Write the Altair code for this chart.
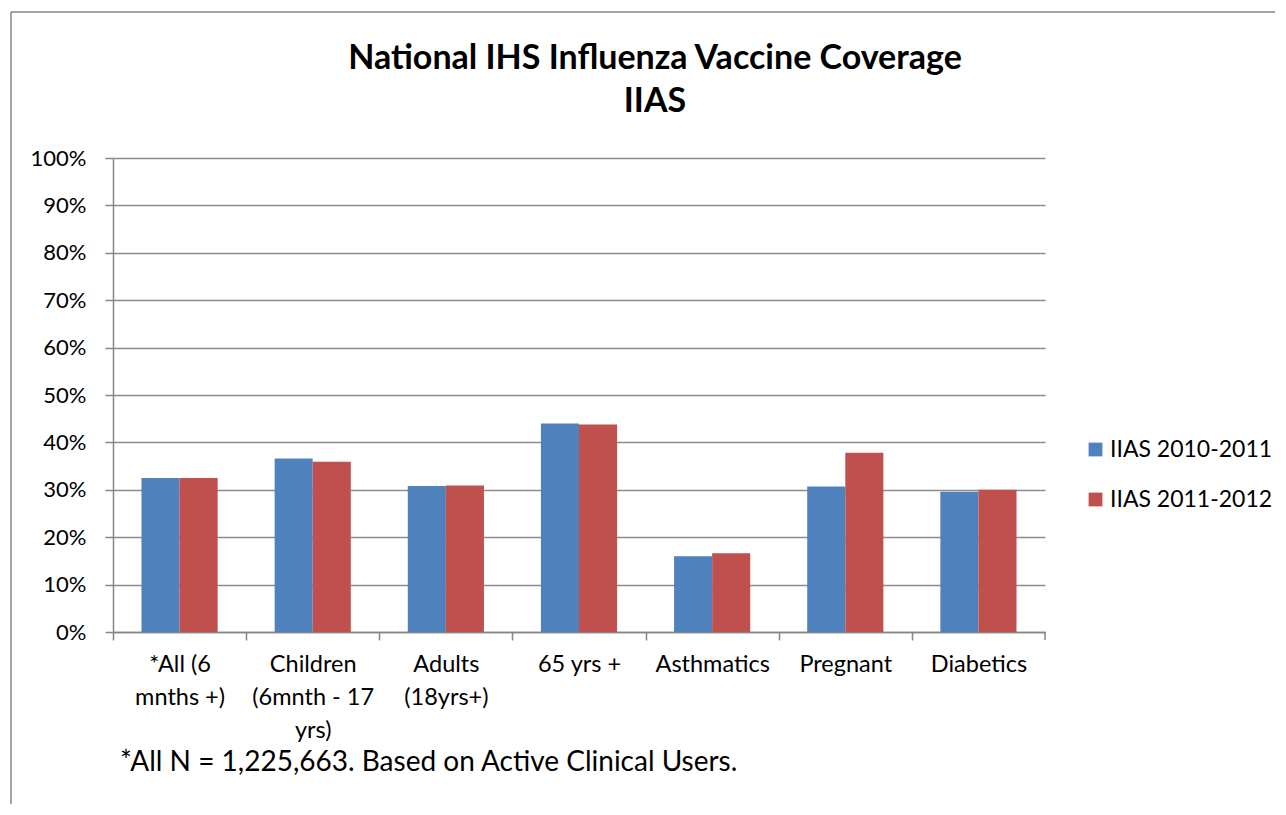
import altair as alt
import pandas as pd

categories = ["*All (6|mnths +)", "Children|(6mnth - 17|yrs)", "Adults|(18yrs+)",
              "65 yrs +", "Asthmatics", "Pregnant", "Diabetics"]
series = ["IIAS 2010-2011", "IIAS 2011-2012"]
values_2010 = [0.325, 0.366, 0.308, 0.440, 0.160, 0.307, 0.296]
values_2011 = [0.325, 0.359, 0.309, 0.438, 0.166, 0.378, 0.300]
colors = ["#4F81BD", "#C0504D"]
y_ticks = [i / 10 for i in range(11)]
title_line1 = "National IHS Influenza Vaccine Coverage"
title_line2 = "IIAS"
footnote = "*All N = 1,225,663. Based on Active Clinical Users."

rows = []
for c, v1, v2 in zip(categories, values_2010, values_2011):
    rows.append({"category": c, "series": series[0], "value": v1})
    rows.append({"category": c, "series": series[1], "value": v2})
df = pd.DataFrame(rows)

W, H = 932, 474
step = W / len(categories)
FONT = "Lato"

bars = alt.Chart(df).mark_bar().encode(
    x=alt.X("category:N", sort=categories, title=None,
            scale=alt.Scale(paddingInner=0.428, paddingOuter=0.214),
            axis=alt.Axis(labelExpr="split(datum.label, '|')", labelAngle=0,
                          labelFontSize=23.5, labelColor="#000000", labelLimit=300,
                          labelLineHeight=33, tickOffset=-step / 2, labelOffset=step / 2,
                          tickSize=8, tickColor="#868686", tickWidth=1.5,
                          domainColor="#868686", domainWidth=1.5,
                          labelPadding=12, grid=False, labelBaseline="top")),
    xOffset=alt.XOffset("series:N", sort=series, scale=alt.Scale(paddingInner=0, paddingOuter=0)),
    y=alt.Y("value:Q", title=None,
            scale=alt.Scale(domain=[0, 1], nice=False),
            axis=alt.Axis(values=y_ticks, format=".0%", labelFontSize=22,
                          labelColor="#000000", tickSize=8, tickColor="#868686",
                          tickWidth=1.5, domainColor="#868686", domainWidth=1.5,
                          gridColor="#8C8C8C", gridWidth=1.5, labelPadding=19)),
    color=alt.Color("series:N", sort=series,
                    scale=alt.Scale(domain=series, range=colors),
                    legend=alt.Legend(title=None, orient="none", legendX=971, legendY=280,
                                      symbolType="square", symbolSize=190,
                                      symbolStrokeWidth=0, labelFontSize=23,
                                      labelLimit=300,
                                      labelColor="#000000", rowPadding=26,
                                      labelOffset=3)),
)

one = alt.Data(values=[{"a": 1}])

def text_layer(txt, x, y, size, weight="normal", align="left"):
    return alt.Chart(one).mark_text(
        text=txt, align=align, baseline="middle", fontSize=size, font=FONT,
        fontWeight=weight, color="#000000"
    ).encode(x=alt.value(x), y=alt.value(y))

title1 = text_layer(title_line1, 542, -99, 34, "bold", "center")
title2 = text_layer(title_line2, 542, -56, 34, "bold", "center")
foot = text_layer(footnote, 7, 605, 28)

# closing tick at the right end of the category axis
end_tick = alt.Chart(one).mark_rule(
    color="#868686", strokeWidth=1.5
).encode(x=alt.value(W), y=alt.value(H), y2=alt.value(H + 8))

frame_left = alt.Chart(one).mark_rule(
    color="#868686", strokeWidth=1.5
).encode(x=alt.value(-102), y=alt.value(-146), y2=alt.value(700))

frame_top = alt.Chart(one).mark_rule(
    color="#868686", strokeWidth=1.5
).encode(x=alt.value(-102), x2=alt.value(1300), y=alt.value(-146))

chart = alt.layer(bars, end_tick, title1, title2, foot, frame_left, frame_top).properties(
    width=W, height=H,
    autosize=alt.AutoSizeParams(type="none"),
    padding={"left": 105, "top": 150, "right": 230, "bottom": 172},
).configure(font=FONT).configure_view(stroke=None).configure_axis(labelFont=FONT)

chart.save("out.html", embed_options={"renderer": "svg", "actions": False})
